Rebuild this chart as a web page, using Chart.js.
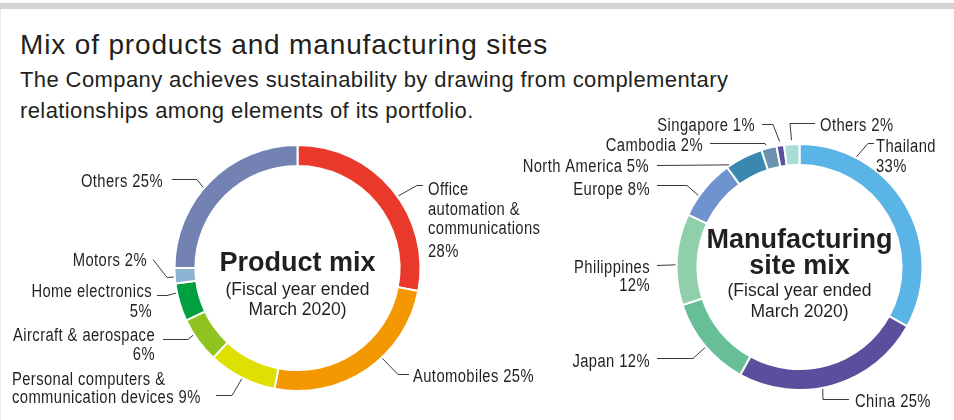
<!DOCTYPE html>
<html>
<head>
<meta charset="utf-8">
<script src="https://cdn.jsdelivr.net/npm/chart.js@4.4.1/dist/chart.umd.min.js"></script>
<style>
  body { margin: 0; width: 954px; height: 420px; background: #fff; overflow: hidden; position: relative; }
  .topbar { position: absolute; left: 0; top: 3px; width: 954px; height: 6px; background: #d4d4d4; }
  .edge { position: absolute; left: 0; top: 9px; width: 1px; height: 411px; background: #ececec; }
  .title { position: absolute; left: 20px; top: 31px; font: 28px/28px "Liberation Sans", Arial, sans-serif; letter-spacing: 0.85px; color: #231f20; white-space: nowrap; }
  .sub { position: absolute; left: 20px; top: 64px; font: 22px/31px "Liberation Sans", Arial, sans-serif; letter-spacing: 0.4px; color: #231f20; white-space: nowrap; }
  canvas { position: absolute; left: 0; top: 0; }
</style>
</head>
<body>
<div class="topbar"></div>
<div class="edge"></div>
<div class="title">Mix of products and manufacturing sites</div>
<div class="sub">The Company achieves sustainability by drawing from complementary<br>relationships among elements of its portfolio.</div>
<canvas id="product" width="954" height="420"></canvas>
<canvas id="site" width="954" height="420"></canvas>
<script>
// Données : répartition des produits (exercice clos en mars 2020)
const productCats = ['Office\nautomation &\ncommunications', 'Automobiles', 'Personal computers &\ncommunication devices',
                     'Aircraft & aerospace', 'Home electronics', 'Motors', 'Others'];
const productVals = [28, 25, 9, 6, 5, 2, 25];
const productColors = ['#e8392b', '#f39800', '#dde000', '#8fc31f', '#00a040', '#8cb4d2', '#7381b3'];

// Données : répartition des sites de fabrication
const siteCats = ['Thailand', 'China', 'Japan', 'Philippines', 'Europe', 'North America', 'Cambodia', 'Singapore', 'Others'];
const siteVals = [33, 25, 12, 12, 8, 5, 2, 1, 2];
const siteColors = ['#5ab4e5', '#5b4e9c', '#66bf96', '#8fcfaa', '#6e93cf', '#3a88b0', '#6a91ad', '#5b4fa0', '#aadcd7'];

const LABEL_FONT = '18px "Liberation Sans", Arial, sans-serif';
const NARROW = 0.82;   // compression horizontale pour imiter une police condensée
const LINE_H = 19.5;
const TEXT_COLOR = '#231f20';

// Placement des étiquettes (frac = position le long de l'arc, path = coudes du trait)
const productLabelPos = [
    { frac: 0.54, path: [[417, 185], [423, 185]], x: 428, y: 195, align: 'left', valLine: true, valGap: 3.5 },
    { frac: 0.40, path: [[398, 374], [409, 374]], x: 413, y: 382, align: 'left' },
    { frac: 0.49, path: [[232, 395], [216, 395]], x: 12, y: 385, align: 'left', lineH: 18 },
    { frac: 0.65, path: [[188, 339], [163, 339]], x: 155, y: 341, align: 'right', valLine: true, lineH: 19 },
    { frac: 0.75, path: [[167, 295], [157, 295]], x: 152, y: 297, align: 'right', valLine: true, lineH: 20 },
    { frac: 0.42, path: [[167, 277], [153, 259]], x: 147, y: 266, align: 'right' },
    { frac: 0.45, path: [[197, 179], [172, 179]], x: 163, y: 187, align: 'right' }
];
const siteLabelPos = [
    { frac: 0.23, path: [[868, 143], [874, 143]], x: 876, y: 152, align: 'left', valLine: true, lineH: 20 },
    { frac: 0.56, path: [[823, 399], [849, 399]], x: 855, y: 407, align: 'left' },
    { frac: 0.48, path: [[693, 358], [657, 358]], x: 650, y: 367, align: 'right' },
    { frac: 0.44, path: [[657, 265]], x: 650, y: 273, align: 'right', valLine: true, lineH: 18 },
    { frac: 0.35, path: [[687, 185], [657, 185]], x: 650, y: 195, align: 'right' },
    { frac: 0.08, path: [[657, 165]], x: 649, y: 172, align: 'right' },
    { frac: 0.37, gap: 3, path: [[765, 143], [710, 143]], x: 703, y: 151, align: 'right' },
    { frac: 0.5, gap: 4, path: [[773, 124], [762, 124]], x: 755, y: 131, align: 'right' },
    { frac: 0.5, gap: 4, path: [[790, 123], [815, 123]], x: 820, y: 131, align: 'left' }
];

const productCenter = [
    { text: 'Product mix', font: 'bold 27px "Liberation Sans", Arial, sans-serif', dy: 3 },
    { text: '(Fiscal year ended', font: '17.5px "Liberation Sans", Arial, sans-serif', dy: 27 },
    { text: 'March 2020)', font: '17.5px "Liberation Sans", Arial, sans-serif', dy: 47 }
];
const siteCenter = [
    { text: 'Manufacturing', font: 'bold 27px "Liberation Sans", Arial, sans-serif', dy: -19 },
    { text: 'site mix', font: 'bold 27px "Liberation Sans", Arial, sans-serif', dy: 7 },
    { text: '(Fiscal year ended', font: '17.5px "Liberation Sans", Arial, sans-serif', dy: 29 },
    { text: 'March 2020)', font: '17.5px "Liberation Sans", Arial, sans-serif', dy: 50 }
];

function drawNarrow(ctx, text, x, y, align) {
    ctx.save();
    ctx.translate(x, y);
    ctx.scale(NARROW, 1);
    ctx.textAlign = align;
    ctx.fillText(text, 0, 0);
    ctx.restore();
}

// Plugin : traits de rappel, étiquettes et texte central
const leaderPlugin = {
    id: 'leaders',
    afterDatasetsDraw(chart, args, opts) {
        const ctx = chart.ctx;
        const meta = chart.getDatasetMeta(0);
        const values = chart.data.datasets[0].data;
        ctx.save();
        ctx.strokeStyle = '#3a3a3a';
        ctx.lineWidth = 1;
        ctx.fillStyle = TEXT_COLOR;
        ctx.textBaseline = 'alphabetic';
        opts.pos.forEach((p, i) => {
            const arc = meta.data[i];
            const a = arc.startAngle + (arc.endAngle - arc.startAngle) * p.frac;
            const r = arc.outerRadius + (p.gap || 1);
            ctx.beginPath();
            ctx.moveTo(arc.x + Math.cos(a) * r, arc.y + Math.sin(a) * r);
            p.path.forEach(q => ctx.lineTo(q[0], q[1] + 0.5));
            ctx.stroke();

            const lines = chart.data.labels[i].split('\n');
            const val = values[i] + '%';
            if (p.valLine) lines.push(val);
            else lines[lines.length - 1] += ' ' + val;
            ctx.font = LABEL_FONT;
            if ('letterSpacing' in ctx) ctx.letterSpacing = '0.5px';
            lines.forEach((t, k) => {
                let y = p.y + k * (p.lineH || LINE_H);
                if (p.valLine && k === lines.length - 1) y += p.valGap || 0;
                drawNarrow(ctx, t, p.x, y, p.align);
            });
        });

        // Texte au centre de l'anneau
        const c = meta.data[0];
        if ('letterSpacing' in ctx) ctx.letterSpacing = '0px';
        ctx.textAlign = 'center';
        opts.center.forEach(l => {
            ctx.font = l.font;
            ctx.fillText(l.text, c.x, c.y + l.dy);
        });
        ctx.restore();
    }
};

function makeDoughnut(id, cats, vals, colors, padding, pos, center) {
    return new Chart(document.getElementById(id), {
        type: 'doughnut',
        data: {
            labels: cats,
            datasets: [{
                data: vals,
                backgroundColor: colors,
                borderColor: '#ffffff',
                borderWidth: 2,
                hoverOffset: 0
            }]
        },
        options: {
            responsive: false,
            animation: false,
            events: [],
            radius: 123,
            cutout: '83%',
            layout: { padding: padding },
            plugins: {
                legend: { display: false },
                tooltip: { enabled: false },
                leaders: { pos: pos, center: center }
            }
        },
        plugins: [leaderPlugin]
    });
}

makeDoughnut('product', productCats, productVals, productColors,
    { left: 175.5, right: 534.5, top: 146, bottom: 30 }, productLabelPos, productCenter);
makeDoughnut('site', siteCats, siteVals, siteColors,
    { left: 677.5, right: 32.5, top: 145, bottom: 31 }, siteLabelPos, siteCenter);
</script>
</body>
</html>
